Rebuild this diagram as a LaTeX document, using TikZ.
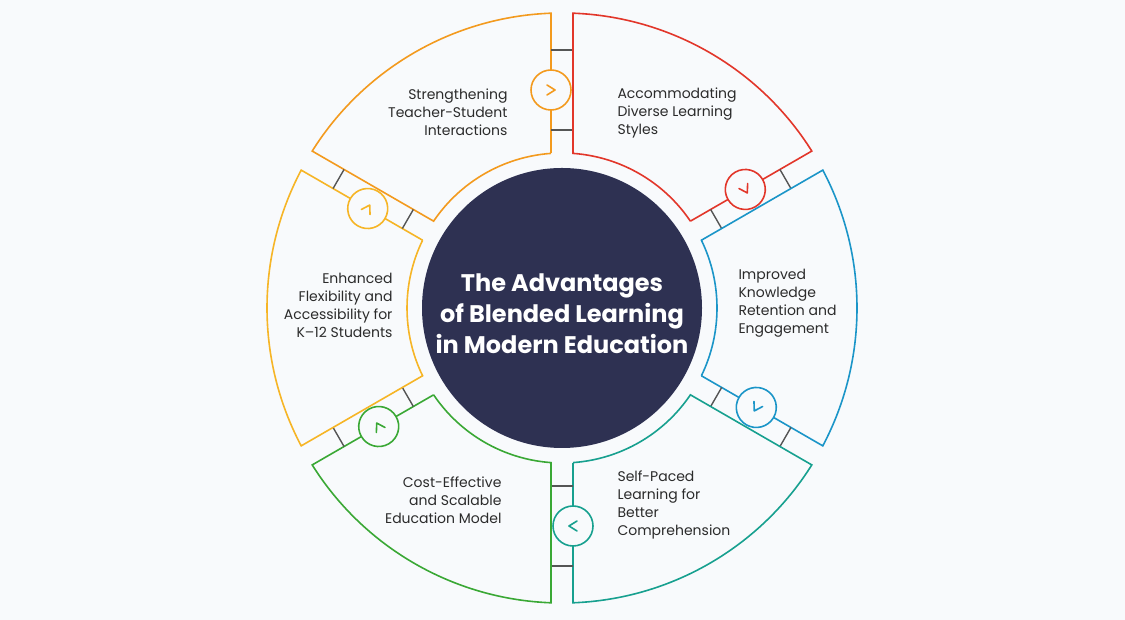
\documentclass[tikz,border=0pt]{standalone}
\usepackage{fontspec}
\setmainfont{Poppins}
\definecolor{bg}{HTML}{F8FAFC}
\definecolor{cOr}{HTML}{F39A1E}
\definecolor{cRe}{HTML}{E2362A}
\definecolor{cBl}{HTML}{1B95C8}
\definecolor{cTe}{HTML}{17A08F}
\definecolor{cGr}{HTML}{3AA835}
\definecolor{cYe}{HTML}{F6B526}
\definecolor{cNa}{HTML}{2E3152}
\definecolor{tick}{HTML}{555555}
\definecolor{txt}{HTML}{2B2B2B}
\tikzset{
  seg/.style={line width=1.6pt},
  lbl/.style={text=txt,font=\fontsize{14}{18}\selectfont,align=#1},
}
\newcommand{\sector}[2]{%
\begin{scope}[shift={(562,312)},rotate=#1]
 \draw[seg,#2] (154.61,11) -- (198,11);
 \draw[seg,#2] (238,11) -- (294.79,11)
   arc[start angle=2.137,end angle=57.863,radius=295]
   -- (55.931:155)
   arc[start angle=55.931,end angle=4.069,radius=155];
 \draw[seg,#2] (218,11) circle[radius=20];
 \draw[seg,#2,line cap=round,line join=round] (213,15) -- (218,7) -- (223,15);
 \draw[tick,line width=1.4pt] (178,11) -- (178,-11) (258,11) -- (258,-11);
\end{scope}}
\begin{document}
\begin{tikzpicture}[x=1pt,y=1pt]
\fill[bg] (0,0) rectangle (1125,620);
\useasboundingbox (0,0) rectangle (1125,620);
\sector{90}{cOr}
\sector{30}{cRe}
\sector{-30}{cBl}
\sector{-90}{cTe}
\sector{-150}{cGr}
\sector{150}{cYe}
\node[circle,fill=cNa,minimum size=280pt,inner sep=0pt] (c) at (562,312) {};
\node[text=white,align=center,font=\fontsize{24}{31}\selectfont\bfseries] (t) at (562,306) {The Advantages\\of Blended Learning\\in Modern Education};
\node[lbl=right,anchor=east] (a1) at (511,508) {Strengthening\\Teacher-Student\\Interactions};
\node[lbl=left,anchor=west] (a2) at (614,507) {Accommodating\\Diverse Learning\\Styles};
\node[lbl=left,anchor=west] (a3) at (735,317) {Improved\\Knowledge\\Retention and\\Engagement};
\node[lbl=left,anchor=west] (a4) at (614,115) {Self-Paced\\Learning for\\Better\\Comprehension};
\node[lbl=right,anchor=east] (a5) at (505,120) {Cost-Effective\\and Scalable\\Education Model};
\node[lbl=right,anchor=east] (a6) at (396,315) {Enhanced\\Flexibility and\\Accessibility for\\K–12 Students};
\end{tikzpicture}
\end{document}
